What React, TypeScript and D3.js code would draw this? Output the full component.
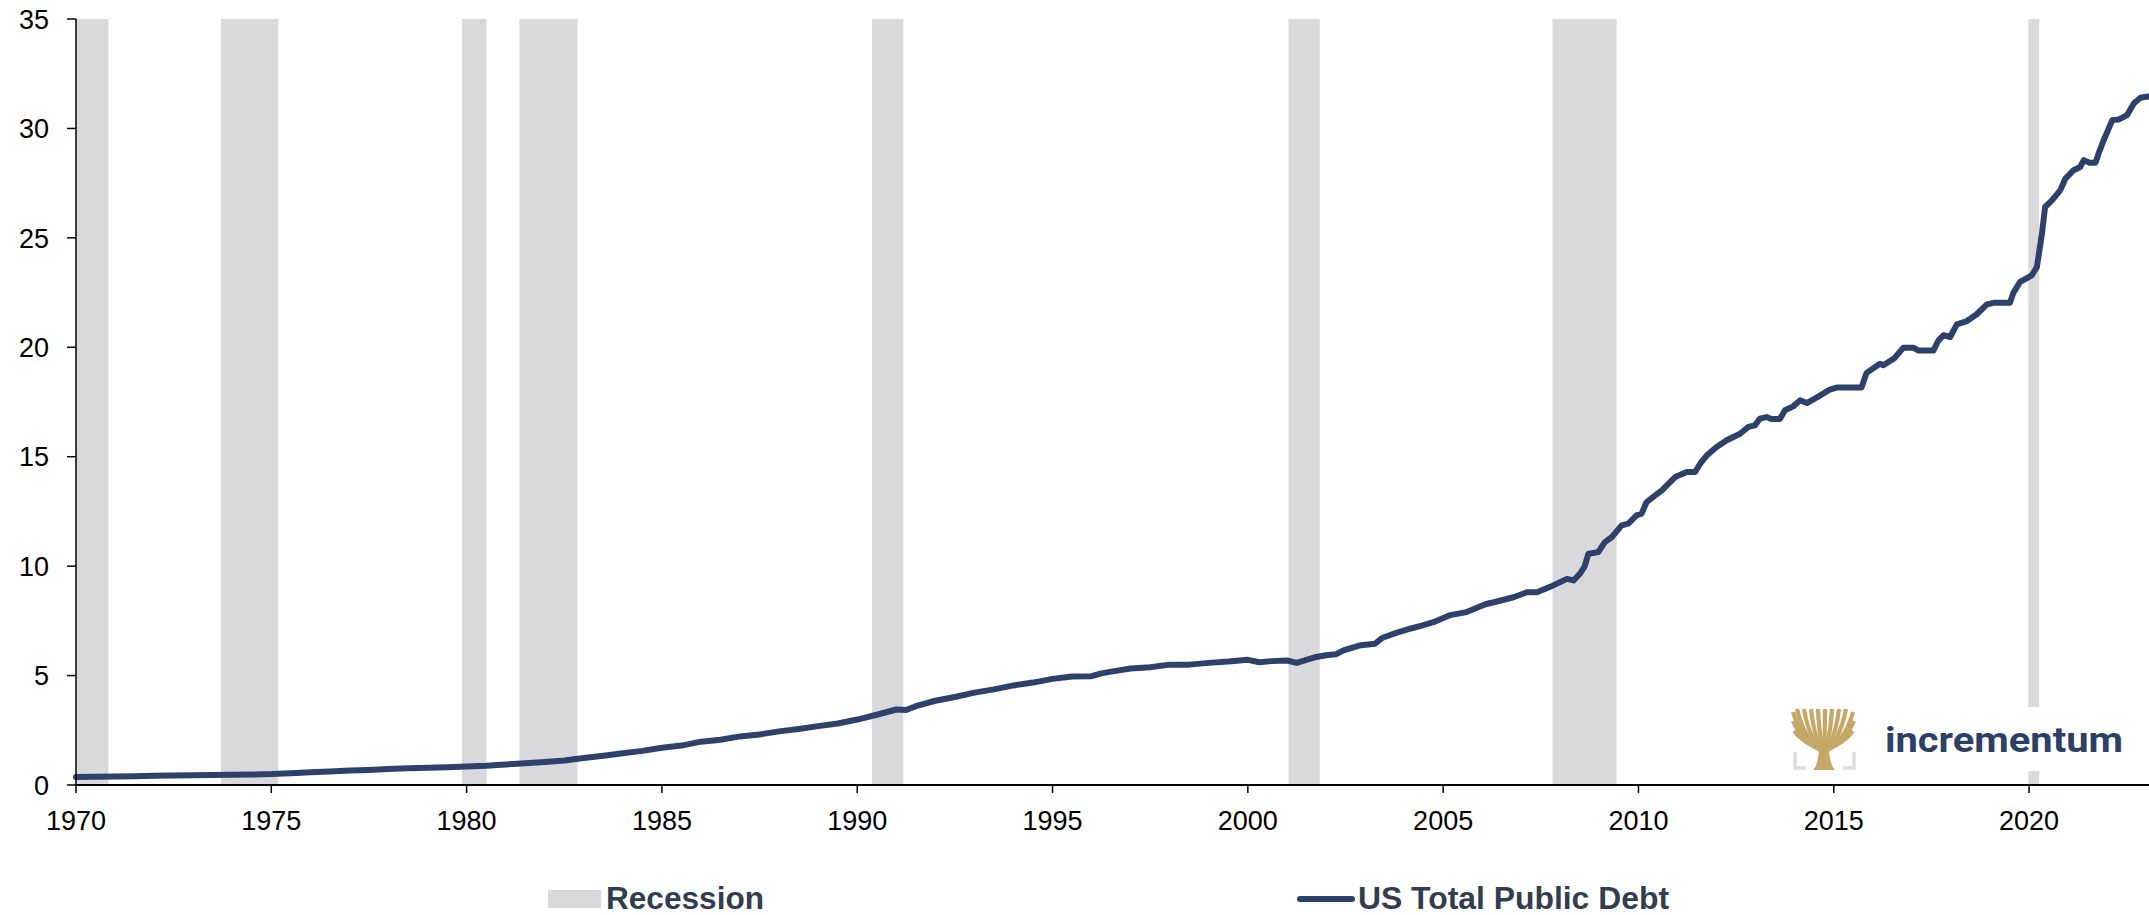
import React from "react";
import * as d3 from "d3";

const W = 2149;
const H = 915;

// Recession periods (decimal years)
const recessionStart = [1970.0, 1973.71, 1979.88, 1981.35, 1990.38, 2001.04, 2007.8, 2019.98];
const recessionEnd = [1970.83, 1975.18, 1980.51, 1982.84, 1991.18, 2001.84, 2009.44, 2020.26];

// US Total Public Debt (USD trillions), decimal years
const debtYears = [
  1970.0, 1970.5, 1971.0, 1971.5, 1972.0, 1972.5, 1973.0, 1973.5, 1974.0, 1974.5,
  1975.0, 1975.5, 1976.0, 1976.5, 1977.0, 1977.5, 1978.0, 1978.5, 1979.0, 1979.5,
  1980.0, 1980.5, 1981.0, 1981.5, 1982.0, 1982.5, 1983.0, 1983.5, 1984.0, 1984.5,
  1985.0, 1985.5, 1986.0, 1986.5, 1987.0, 1987.5, 1988.0, 1988.5, 1989.0, 1989.5,
  1990.0, 1990.5, 1991.0, 1991.25, 1991.5, 1992.0, 1992.5, 1993.0, 1993.5, 1994.0,
  1994.5, 1995.0, 1995.5, 1996.0, 1996.25, 1996.5, 1997.0, 1997.5, 1998.0, 1998.5,
  1999.0, 1999.5, 2000.0, 2000.3, 2000.6, 2001.0, 2001.25, 2001.5, 2001.75, 2002.0,
  2002.25, 2002.45, 2002.85, 2003.25, 2003.45, 2003.8, 2004.15, 2004.45, 2004.75, 2005.15,
  2005.6, 2006.1, 2006.3, 2006.8, 2007.15, 2007.4, 2007.82, 2008.17, 2008.34, 2008.5,
  2008.62, 2008.72, 2008.97, 2009.14, 2009.32, 2009.57, 2009.74, 2009.95, 2010.08, 2010.21,
  2010.38, 2010.6, 2010.81, 2010.94, 2011.24, 2011.45, 2011.58, 2011.75, 2012.0, 2012.26,
  2012.6, 2012.81, 2012.98, 2013.11, 2013.28, 2013.4, 2013.62, 2013.75, 2013.96, 2014.14,
  2014.31, 2014.56, 2014.9, 2015.07, 2015.71, 2015.84, 2016.18, 2016.27, 2016.55, 2016.69,
  2016.78, 2017.04, 2017.17, 2017.55, 2017.68, 2017.81, 2017.98, 2018.15, 2018.41, 2018.66,
  2018.92, 2019.09, 2019.51, 2019.6, 2019.77, 2020.07, 2020.2, 2020.33, 2020.41, 2020.59,
  2020.8, 2020.93, 2021.14, 2021.31, 2021.4, 2021.55, 2021.7, 2021.78, 2021.91, 2022.13,
  2022.3, 2022.51, 2022.68, 2022.85, 2023.0, 2023.07,
];
const debtValues = [
  0.37, 0.38, 0.39, 0.4, 0.42, 0.43, 0.45, 0.46, 0.47, 0.48,
  0.5, 0.54, 0.58, 0.62, 0.66, 0.69, 0.73, 0.76, 0.79, 0.81,
  0.84, 0.88, 0.94, 0.99, 1.05, 1.12, 1.23, 1.34, 1.45, 1.56,
  1.7, 1.8, 1.98, 2.07, 2.22, 2.31, 2.45, 2.56, 2.69, 2.81,
  2.99, 3.21, 3.45, 3.43, 3.6, 3.85, 4.02, 4.22, 4.37, 4.55,
  4.68, 4.85, 4.96, 4.97, 5.1, 5.18, 5.32, 5.38, 5.5, 5.5,
  5.58, 5.64, 5.72, 5.61, 5.66, 5.69, 5.58, 5.72, 5.85, 5.93,
  5.97, 6.15, 6.37, 6.45, 6.73, 6.95, 7.14, 7.28, 7.44, 7.75,
  7.9, 8.27, 8.35, 8.58, 8.81, 8.81, 9.12, 9.42, 9.35, 9.65,
  9.98, 10.57, 10.64, 11.1, 11.33, 11.86, 11.94, 12.32, 12.4, 12.93,
  13.16, 13.46, 13.84, 14.07, 14.3, 14.3, 14.68, 15.06, 15.44, 15.75,
  16.05, 16.36, 16.43, 16.74, 16.81, 16.72, 16.72, 17.12, 17.3, 17.58,
  17.45, 17.7, 18.07, 18.16, 18.16, 18.83, 19.25, 19.18, 19.5, 19.79,
  19.98, 19.98, 19.85, 19.85, 20.32, 20.55, 20.47, 21.05, 21.2, 21.51,
  21.96, 22.03, 22.03, 22.5, 22.99, 23.29, 23.67, 25.2, 26.41, 26.72,
  27.18, 27.71, 28.09, 28.24, 28.55, 28.43, 28.43, 28.86, 29.46, 30.38,
  30.41, 30.61, 31.14, 31.4, 31.45, 31.46,
];

const xTicks = [1970, 1975, 1980, 1985, 1990, 1995, 2000, 2005, 2010, 2015, 2020];
const yTicks = [0, 5, 10, 15, 20, 25, 30, 35];

const seriesName = "US Total Public Debt";
const recessionName = "Recession";
const logoText = "incrementum";

const LINE = "#2e416b";
const BAND = "#d9d8db";
const LEGEND_TEXT = "#323e50";
const GOLD = "#c6a866";

// tree branch tips for logo (relative to tree origin)
const branchTips: [number, number][] = [
  [0, 3], [0, 12], [1, 22], [4, 0], [11, 0], [18, 0], [25, 0],
  [32, 0], [39, 0], [46, 0], [53, 0], [60, 3], [61, 12], [60, 22],
];

export default function App() {
  const x = d3.scaleLinear().domain([1970, debtYears[debtYears.length - 1]]).range([76, 2149]);
  const y = d3.scaleLinear().domain([0, 35]).range([785, 19]);

  const pts = debtYears.map((yr, i) => [yr, debtValues[i]] as [number, number]);
  const line = d3
    .line<[number, number]>()
    .x((d) => x(d[0]))
    .y((d) => y(d[1]))
    .curve(d3.curveLinear);

  const font = "'Liberation Sans', Arial, Helvetica, sans-serif";
  const tx = 1793;
  const ty = 709;
  const trunkTop: [number, number] = [tx + 31, ty + 38];

  return (
    <svg
      width={W}
      height={H}
      style={{ position: "absolute", left: 0, top: 0, background: "#fff" }}
      xmlns="http://www.w3.org/2000/svg"
    >
      <rect x={0} y={0} width={W} height={H} fill="#fff" />
      {/* recession bands */}
      {recessionStart.map((s, i) => (
        <rect
          key={i}
          x={x(s)}
          y={y(35)}
          width={x(recessionEnd[i]) - x(s)}
          height={y(0) - y(35)}
          fill={BAND}
        />
      ))}

      {/* logo background */}
      <rect x={1786} y={707} width={350} height={64} fill="#fff" />

      {/* debt line */}
      <path
        d={line(pts) || ""}
        fill="none"
        stroke={LINE}
        strokeWidth={6}
        strokeLinejoin="round"
        strokeLinecap="round"
      />

      {/* y axis */}
      <line x1={76} x2={76} y1={y(35)} y2={y(0)} stroke="#000" strokeWidth={1.5} />
      {yTicks.map((t) => (
        <g key={t}>
          <line x1={67} x2={76} y1={y(t)} y2={y(t)} stroke="#000" strokeWidth={1.5} />
          <text
            x={49}
            y={y(t)}
            dy="0.36em"
            textAnchor="end"
            fontFamily={font}
            fontSize={27}
            fill="#000"
          >
            {t}
          </text>
        </g>
      ))}

      {/* x axis */}
      <line x1={76} x2={W} y1={y(0)} y2={y(0)} stroke="#000" strokeWidth={2} />
      {xTicks.map((t) => (
        <g key={t}>
          <line x1={x(t)} x2={x(t)} y1={y(0)} y2={y(0) + 8} stroke="#000" strokeWidth={1.5} />
          <text
            x={x(t)}
            y={830}
            textAnchor="middle"
            fontFamily={font}
            fontSize={27}
            fill="#000"
          >
            {t}
          </text>
        </g>
      ))}

      {/* logo */}
      <g>
        {/* gray brackets */}
        <path
          d={`M${tx + 2},${ty + 43} V${ty + 59} H${tx + 13}`}
          fill="none"
          stroke="#dcdcdf"
          strokeWidth={3.5}
        />
        <path
          d={`M${tx + 61},${ty + 43} V${ty + 59} H${tx + 50}`}
          fill="none"
          stroke="#dcdcdf"
          strokeWidth={3.5}
        />
        {/* trunk */}
        <path
          d={`M${tx + 20},${ty + 61} Q${tx + 26},${ty + 55} ${tx + 26},${ty + 36} L${tx + 36},${ty + 36} Q${tx + 36},${ty + 55} ${tx + 42},${ty + 61} Z`}
          fill={GOLD}
        />
        {branchTips.map((b, i) => {
          const ex = tx + b[0];
          const ey = ty + b[1];
          const cx = (trunkTop[0] + ex) / 2 + (ex - trunkTop[0]) * 0.2;
          const cy = trunkTop[1] - 4;
          return (
            <path
              key={i}
              d={`M${trunkTop[0]},${trunkTop[1] + 4} Q${cx},${cy} ${ex},${ey}`}
              fill="none"
              stroke={GOLD}
              strokeWidth={4.2}
            />
          );
        })}
        <text
          x={1885}
          y={752}
          fontFamily="Roboto, 'Noto Sans', sans-serif"
          fontWeight={700}
          fontSize={35}
          fill="#2c3f67"
          textLength={238}
          lengthAdjust="spacingAndGlyphs"
        >
          {logoText}
        </text>
      </g>

      {/* legend */}
      <rect x={548} y={890} width={53} height={18} fill={BAND} />
      <text
        x={606}
        y={909}
        fontFamily={font}
        fontWeight="bold"
        fontSize={31}
        fill={LEGEND_TEXT}
        textLength={158}
        lengthAdjust="spacingAndGlyphs"
      >
        {recessionName}
      </text>
      <line
        x1={1300}
        x2={1352}
        y1={899}
        y2={899}
        stroke={LINE}
        strokeWidth={6}
        strokeLinecap="round"
      />
      <text
        x={1358}
        y={909}
        fontFamily={font}
        fontWeight="bold"
        fontSize={31}
        fill={LEGEND_TEXT}
        textLength={311}
        lengthAdjust="spacingAndGlyphs"
      >
        {seriesName}
      </text>
    </svg>
  );
}
